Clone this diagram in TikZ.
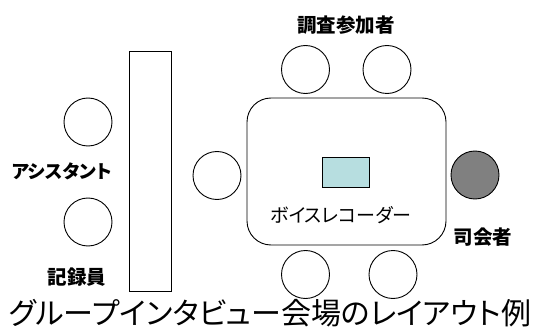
\documentclass[tikz,border=0pt]{standalone}
\usepackage{fontspec}
\newfontfamily\jp[RawFeature=+palt]{Noto Sans CJK JP}
\definecolor{recblue}{HTML}{B7DEE0}
\definecolor{mcgray}{HTML}{808080}
\begin{document}
\begin{tikzpicture}[x=1pt,y=-1pt,
  seat/.style={circle,draw,line width=0.9pt,minimum size=48pt,inner sep=0pt},
  lbl/.style={inner sep=0pt,font=\jp\bfseries\fontsize{19.5}{19.5}\selectfont},
  lw/.style={line width=0.9pt}]
\useasboundingbox (0,0) rectangle (539,329);
% side table
\node[draw,lw,minimum width=42pt,minimum height=240pt,inner sep=0pt] (side) at (150,171) {};
% main table
\node[draw,lw,rounded corners=24pt,minimum width=199pt,minimum height=147pt,inner sep=0pt] (table) at (346.5,171.5) {};
% recorder
\node[draw,lw,fill=recblue,minimum width=47pt,minimum height=30pt,inner sep=0pt] (rec) at (345.5,172) {};
\node[inner sep=0pt,font=\jp\fontsize{19}{19}\selectfont] (rectext) at (341,215.5) {ボイスレコーダー};
% seats
\node[seat] (a1) at (88,122) {};
\node[seat] (a2) at (88,222) {};
\node[seat] (p0) at (217,175.5) {};
\node[seat] (p1) at (305.5,69.5) {};
\node[seat] (p2) at (387,69.5) {};
\node[seat] (p3) at (305.5,274.5) {};
\node[seat] (p4) at (393,274.5) {};
\node[seat,fill=mcgray] (mc) at (475,175) {};
% labels
\node[lbl] (tparticipants) at (346,25) {調査参加者};
\node[lbl,font=\jp\bfseries\fontsize{18.5}{18.5}\selectfont] (tassist) at (62,171) {アシスタント};
\node[lbl] (trecorder) at (77,277) {記録員};
\node[lbl] (tmc) at (483,237) {司会者};
% caption
\node[inner sep=0pt,font=\jp\fontsize{30}{30}\selectfont] (caption) at (270,313) {グループインタビュー会場のレイアウト例};
\end{tikzpicture}
\end{document}
